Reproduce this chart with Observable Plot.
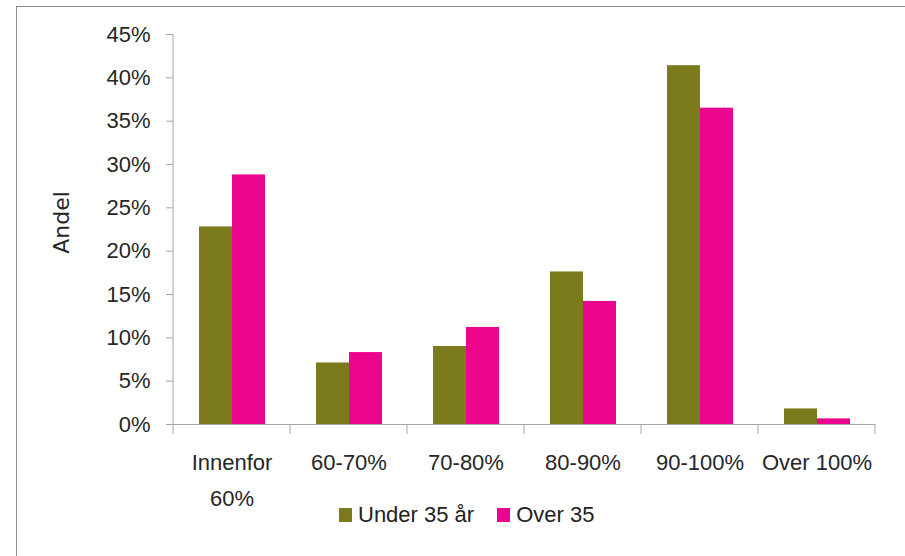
<!DOCTYPE html>
<html>
<head>
<meta charset="utf-8">
<script src="https://cdn.jsdelivr.net/npm/d3@7"></script>
<script src="https://cdn.jsdelivr.net/npm/@observablehq/plot@0.6"></script>
<style>
  body { margin: 0; background: #fff; }
  #chart { position: relative; width: 905px; height: 556px; overflow: hidden; background: #fff; }
  #chart svg { position: absolute; left: 0; top: 0; }
  #border { position: absolute; left: 16px; top: 6px; width: 1200px; height: 1200px;
            border-left: 1px solid #8c8c8c; border-top: 1px solid #8c8c8c; }
  #legend { position: absolute; left: 339px; top: 504px; display: flex; align-items: center;
            font: 22px "Liberation Sans", Arial, sans-serif; line-height: 22px; color: #222; white-space: nowrap; }
  #legend .sw { display: inline-block; width: 13px; height: 14px; margin-right: 6px; }
  #legend .item { display: flex; align-items: center; margin-right: 23px; }
</style>
</head>
<body>
<div id="chart"><div id="border"></div></div>
<script>
// Share of respondents by loan-to-value band, split by age group
const categories = ["Innenfor\n60%", "60-70%", "70-80%", "80-90%", "90-100%", "Over 100%"];
const seriesNames = ["Under 35 år", "Over 35"];
const under35 = [0.228, 0.071, 0.090, 0.176, 0.414, 0.018];
const over35 = [0.288, 0.083, 0.112, 0.142, 0.365, 0.0065];
const yTicks = [0, 0.05, 0.10, 0.15, 0.20, 0.25, 0.30, 0.35, 0.40, 0.45];
const seriesColors = ["#7b7b1e", "#ec068d"];
const yLabel = "Andel";

const rows = categories.flatMap((cat, i) => [
  {cat, group: seriesNames[0], value: under35[i]},
  {cat, group: seriesNames[1], value: over35[i]}
]);

const pct = d => Math.round(d * 100) + "%";
const axisGray = "#a6a6a6";

const plot = Plot.plot({
  width: 905,
  height: 556,
  marginLeft: 172,
  marginRight: 30,
  marginTop: 34,
  marginBottom: 132,
  style: {fontFamily: "'Liberation Sans', Arial, sans-serif", fontSize: "22px", color: "#262626", background: "transparent"},
  fx: {domain: categories, padding: 0, label: null},
  x: {domain: seriesNames, paddingInner: 0, paddingOuter: 0.75, axis: null},
  y: {domain: [0, 0.45], label: null},
  color: {domain: seriesNames, range: seriesColors},
  marks: [
    Plot.barY(rows, {fx: "cat", x: "group", y: "value", fill: "group"}),
    Plot.ruleY([0], {stroke: axisGray}),
    Plot.axisY({ticks: yTicks, tickFormat: pct, tickSize: 7, tickPadding: 16, stroke: axisGray, fill: "#262626", label: null}),
    Plot.axisFx({anchor: "bottom", tickSize: 0, tickPadding: 20, lineHeight: 1.64, fill: "#262626", label: null}),
    Plot.text([yLabel], {
      fx: () => categories[0],
      frameAnchor: "left", textAnchor: "middle", rotate: -90, dx: -112, dy: -7,
      text: d => d, fontFamily: "'DejaVu Sans', sans-serif", fontSize: 22, fill: "#262626"
    })
  ]
});

document.getElementById("chart").appendChild(plot);

// Category boundary ticks below the baseline and the vertical value axis line
const fx = plot.scale("fx");
const y = plot.scale("y");
const svg = d3.select(plot);
const edges = categories.map(c => fx.apply(c)).concat([fx.apply(categories[categories.length - 1]) + fx.bandwidth]);
const g = svg.append("g").attr("stroke", axisGray).attr("stroke-width", 1);
g.selectAll("line.tick").data(edges).join("line")
  .attr("x1", d => d).attr("x2", d => d)
  .attr("y1", y.apply(0)).attr("y2", y.apply(0) + 10);
g.append("line")
  .attr("x1", edges[0]).attr("x2", edges[0])
  .attr("y1", y.apply(0.45)).attr("y2", y.apply(0));

// Legend below the plot
const color = plot.scale("color");
const legend = d3.select("#chart").append("div").attr("id", "legend");
const items = legend.selectAll("div.item").data(seriesNames).join("div").attr("class", "item");
items.append("span").attr("class", "sw").style("background", d => color.apply(d));
items.append("span").text(d => d);
</script>
</body>
</html>
